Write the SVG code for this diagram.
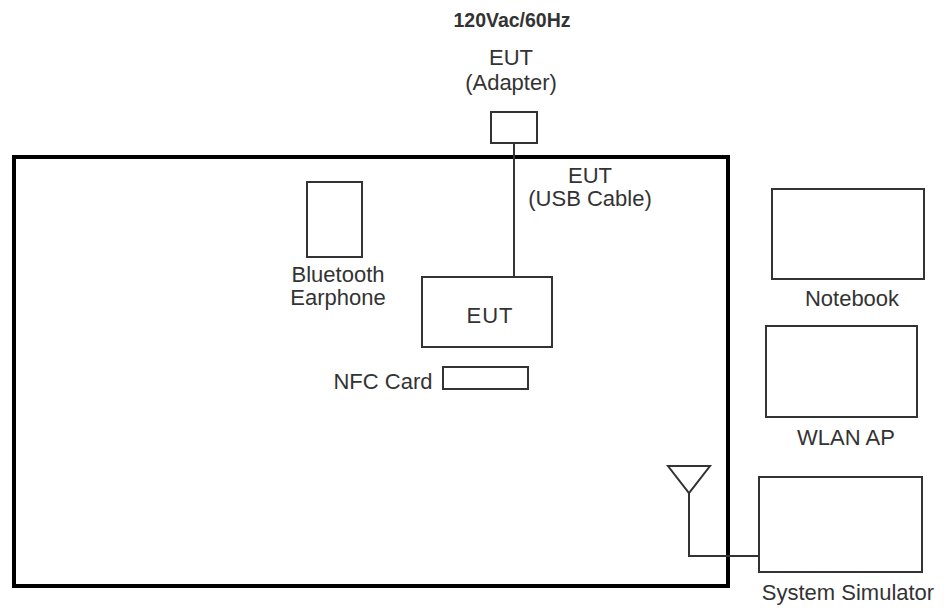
<svg xmlns="http://www.w3.org/2000/svg" width="947" height="608" viewBox="0 0 947 608">
<style>
.box{fill:#fff;stroke:#333;stroke-width:2}
.ln{fill:none;stroke:#333;stroke-width:2}
.t{font-family:"Liberation Sans",Arial,sans-serif;font-size:22px;fill:#333;text-anchor:middle}
.b{font-weight:bold;font-size:19.5px}
</style>
<rect width="947" height="608" fill="#fff"/>
<g id="chamber"><rect x="14" y="157" width="714" height="429" fill="none" stroke="#000" stroke-width="4"/></g>
<g id="connectors">
<line class="ln" x1="514" y1="143" x2="514" y2="277"/>
<polyline class="ln" points="689,493 689,556 759,556"/>
</g>
<g id="power"><text class="t b" x="512" y="27">120Vac/60Hz</text></g>
<g id="adapter">
<text class="t" x="511" y="65" font-size="23">EUT</text>
<text class="t" x="511" y="90" font-size="23">(Adapter)</text>
<rect class="box" x="491" y="112" width="46" height="31"/>
</g>
<g id="usb-label">
<text class="t" x="590" y="183">EUT</text>
<text class="t" x="590" y="206" font-size="22">(USB Cable)</text>
</g>
<g id="eut">
<rect class="box" x="422" y="277" width="130" height="70"/>
<text class="t" x="490" y="323" letter-spacing="1">EUT</text>
</g>
<g id="bluetooth">
<rect class="box" x="307" y="182" width="55" height="75"/>
<text class="t" x="338" y="282">Bluetooth</text>
<text class="t" x="338" y="305">Earphone</text>
</g>
<g id="nfc">
<text class="t" x="383" y="389" font-size="21.5">NFC Card</text>
<rect class="box" x="443" y="367" width="85" height="22"/>
</g>
<g id="notebook">
<rect class="box" x="772" y="189" width="152" height="90"/>
<text class="t" x="852" y="306">Notebook</text>
</g>
<g id="wlan">
<rect class="box" x="766" y="326" width="151" height="91"/>
<text class="t" x="846" y="445" font-size="23">WLAN AP</text>
</g>
<g id="antenna"><polygon class="ln" points="668,466 710,466 689,493"/></g>
<g id="simulator">
<rect class="box" x="759" y="477" width="163" height="95"/>
<text class="t" x="848" y="600" font-size="23.5">System Simulator</text>
</g>
</svg>
